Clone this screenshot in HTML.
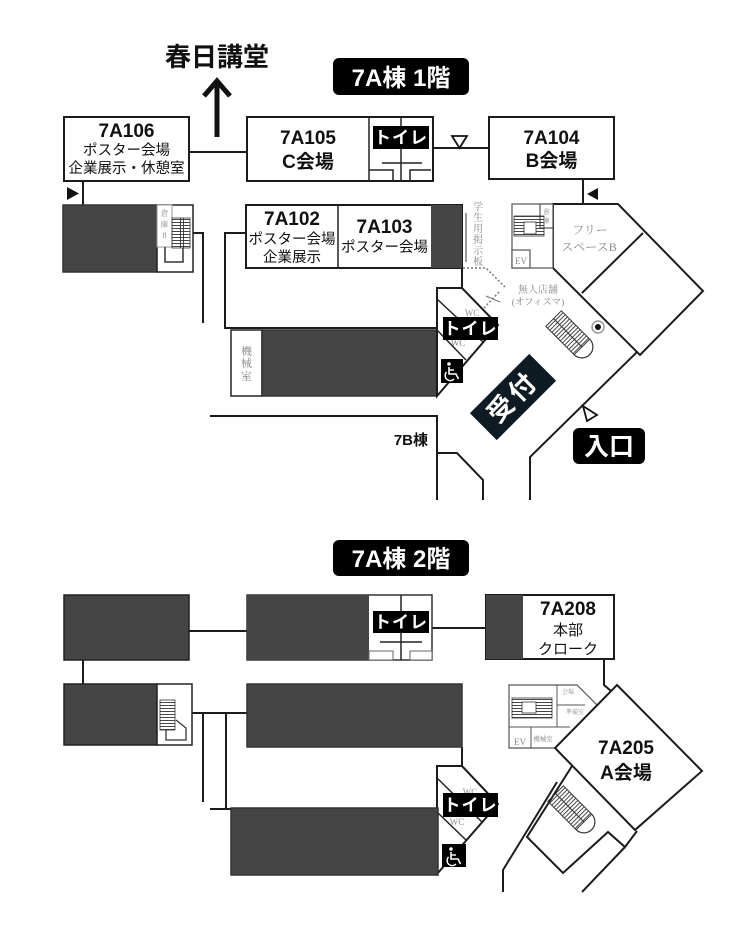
<!DOCTYPE html>
<html><head><meta charset="utf-8"><style>
html,body{margin:0;padding:0;background:#fff;}
svg{display:block;}
.b{font-family:"Liberation Sans","Noto Sans CJK JP",sans-serif;font-weight:bold;fill:#111;}
.j{font-family:"Liberation Sans","Noto Sans CJK JP",sans-serif;fill:#111;}
.g{font-family:"Liberation Serif","Noto Serif CJK SC",serif;fill:#8a8a8a;}
.w{fill:#fff;}
</style></head><body>
<svg width="756" height="945" viewBox="0 0 756 945" xmlns="http://www.w3.org/2000/svg">
<defs>
<pattern id="hv" width="3" height="3" patternUnits="userSpaceOnUse"><line x1="0.5" y1="0" x2="0.5" y2="3" stroke="#333" stroke-width="0.9"/></pattern>
<pattern id="hh" width="3" height="3" patternUnits="userSpaceOnUse"><line x1="0" y1="0.5" x2="3" y2="0.5" stroke="#333" stroke-width="0.9"/></pattern>
</defs>
<rect width="756" height="945" fill="#fff"/>

<!-- ================= 1F ================= -->
<text x="217" y="66" text-anchor="middle" class="b" font-size="26">春日講堂</text>
<line x1="217" y1="137" x2="217" y2="84" stroke="#111" stroke-width="5"/>
<polyline points="204,96 217,81 230,96" fill="none" stroke="#111" stroke-width="5"/>

<rect x="333" y="58" width="136" height="37" rx="6" fill="#000"/>
<text x="401" y="86" text-anchor="middle" class="b w" font-size="24">7A棟 1階</text>

<g stroke="#1c1c1c" stroke-width="2" fill="none">
  <line x1="189" y1="152" x2="247" y2="152"/>
  <line x1="433" y1="148" x2="489" y2="148"/>
  <line x1="83" y1="181" x2="83" y2="205"/>
  <line x1="583" y1="179" x2="583" y2="204"/>
  <polyline points="193,233 203,233 203,323"/>
  <polyline points="247,233 225,233 225,328 437,328"/>
  <polyline points="210,416 437,416 437,500"/>
  <polyline points="438,453 457,453 483,480 483,500"/>
  <polyline points="462,268 462,288"/>
  <polygon points="553,204 618,204 703,291 640,355 553,268"/>
  <line x1="643" y1="233" x2="582" y2="293"/>
  <polyline points="637,352 530,457 530,500"/>
</g>

<!-- 7A106 -->
<rect x="64" y="117" width="125" height="64" fill="#fff" stroke="#1c1c1c" stroke-width="2"/>
<text x="126.5" y="137" text-anchor="middle" class="b" font-size="19">7A106</text>
<text x="126.5" y="155" text-anchor="middle" class="j" font-size="14.5">ポスター会場</text>
<text x="126.5" y="173" text-anchor="middle" class="j" font-size="14.5">企業展示・休憩室</text>
<polygon points="67,187 79,193.5 67,200" fill="#111"/>

<!-- left dark block + stairs -->
<rect x="63" y="205" width="94" height="67" fill="#454545" stroke="#333" stroke-width="1.5"/>
<rect x="157" y="205" width="36" height="67" fill="#fff" stroke="#222" stroke-width="1.5"/>
<rect x="157" y="205" width="15" height="42" fill="#fff" stroke="#999" stroke-width="1"/>
<text x="164.5" y="216" text-anchor="middle" class="g" font-size="8">倉</text>
<text x="164.5" y="227" text-anchor="middle" class="g" font-size="8">庫</text>
<text x="164.5" y="238" text-anchor="middle" class="g" font-size="8">8</text>
<rect x="172" y="218" width="18" height="30" fill="url(#hh)" stroke="#333" stroke-width="0.8"/>
<rect x="178" y="218" width="6" height="30" fill="url(#hv)"/>
<polyline points="165,247 165,262 183,262 183,248" fill="none" stroke="#333" stroke-width="1.5"/>

<!-- 7A105 -->
<rect x="247" y="117" width="186" height="64" fill="#fff" stroke="#1c1c1c" stroke-width="2"/>
<g stroke="#222" stroke-width="1.5" fill="none">
  <line x1="369" y1="117" x2="369" y2="181"/>
  <line x1="401" y1="117" x2="401" y2="181"/>
  <line x1="382" y1="163" x2="422" y2="163"/>
  <polyline points="369,170 393,170 393,181"/>
  <polyline points="410,181 410,170 431,170"/>
</g>
<text x="308" y="144" text-anchor="middle" class="b" font-size="19">7A105</text>
<text x="308" y="168" text-anchor="middle" class="b" font-size="19">C会場</text>
<rect x="373" y="126" width="56" height="23" fill="#000"/>
<text x="401" y="143.5" text-anchor="middle" class="b w" font-size="17" letter-spacing="1">トイレ</text>
<polygon points="452,136 467,136 459.5,148" fill="#fff" stroke="#111" stroke-width="1.8"/>

<!-- 7A104 -->
<rect x="489" y="117" width="125" height="62" fill="#fff" stroke="#1c1c1c" stroke-width="2"/>
<text x="551.5" y="144" text-anchor="middle" class="b" font-size="19">7A104</text>
<text x="551.5" y="167" text-anchor="middle" class="b" font-size="19">B会場</text>
<polygon points="587,194 598,188 598,200" fill="#111"/>

<!-- EV block 1F -->
<g stroke="#555" stroke-width="1.2" fill="#fff">
  <rect x="512" y="204" width="41" height="64"/>
  <rect x="512" y="250" width="18" height="18"/>
  <rect x="540" y="204" width="13" height="24"/>
</g>
<rect x="514" y="216" width="30" height="20" fill="url(#hh)" stroke="#333" stroke-width="0.8"/>
<rect x="524" y="222" width="12" height="12" fill="#fff" stroke="#333" stroke-width="0.8"/>
<text x="521" y="264" text-anchor="middle" class="g" font-size="9">EV</text>
<text x="546.5" y="214" text-anchor="middle" class="g" font-size="7">倉</text>
<text x="546.5" y="223" text-anchor="middle" class="g" font-size="7">庫</text>

<text x="590" y="234" text-anchor="middle" class="g" font-size="12">フリー</text>
<text x="589" y="251" text-anchor="middle" class="g" font-size="12">スペースB</text>

<!-- 7A102 / 7A103 -->
<rect x="246" y="205" width="216" height="63" fill="#fff" stroke="#1c1c1c" stroke-width="2"/>
<rect x="431" y="205" width="31" height="63" fill="#454545"/>
<line x1="338" y1="205" x2="338" y2="268" stroke="#222" stroke-width="1.5"/>
<line x1="466" y1="213" x2="466" y2="262" stroke="#999" stroke-width="2"/>
<text x="292" y="225" text-anchor="middle" class="b" font-size="19">7A102</text>
<text x="292" y="244" text-anchor="middle" class="j" font-size="14.5">ポスター会場</text>
<text x="292" y="262" text-anchor="middle" class="j" font-size="14.5">企業展示</text>
<text x="384.5" y="233" text-anchor="middle" class="b" font-size="19">7A103</text>
<text x="384.5" y="252" text-anchor="middle" class="j" font-size="14.5">ポスター会場</text>

<g class="g" font-size="10" text-anchor="middle">
  <text x="478" y="210">学</text><text x="478" y="221">生</text><text x="478" y="232">用</text>
  <text x="478" y="243">掲</text><text x="478" y="254">示</text><text x="478" y="265">板</text>
</g>
<polyline points="463,268 486,268 505,287" fill="none" stroke="#777" stroke-width="1.5" stroke-dasharray="2,2"/>
<polyline points="499,292 484,308" fill="none" stroke="#777" stroke-width="1.5" stroke-dasharray="2,2"/>
<line x1="486" y1="296" x2="500" y2="302" stroke="#777" stroke-width="1.2"/>
<text x="538" y="293" text-anchor="middle" class="g" font-size="10">無人店舗</text>
<text x="538" y="305" text-anchor="middle" class="g" font-size="9.5">(オフィスマ)</text>

<!-- machine room + dark -->
<rect x="231" y="330" width="31" height="66" fill="#fff" stroke="#222" stroke-width="1.5"/>
<rect x="262" y="330" width="175" height="66" fill="#454545" stroke="#333" stroke-width="1.5"/>
<g class="g" font-size="11" text-anchor="middle">
  <text x="246.5" y="355">機</text><text x="246.5" y="367">械</text><text x="246.5" y="380">室</text>
</g>

<!-- toilet 1F -->
<polygon points="437,288 462,288 498,325 437,396" fill="#fff" stroke="#1c1c1c" stroke-width="2"/>
<line x1="437" y1="299" x2="483" y2="342" stroke="#222" stroke-width="1.5"/>
<line x1="437" y1="330" x2="466" y2="360" stroke="#222" stroke-width="1.5"/>
<text x="472" y="316" text-anchor="middle" class="g" font-size="9">WC</text>
<text x="458" y="346" text-anchor="middle" class="g" font-size="9">WC</text>
<rect x="443" y="317" width="55" height="23" fill="#000"/>
<text x="470.5" y="334.5" text-anchor="middle" class="b w" font-size="17" letter-spacing="1">トイレ</text>
<g>
  <rect x="441" y="359" width="22" height="24" fill="#000"/>
  <circle cx="449" cy="364" r="1.8" fill="#fff"/>
  <polyline points="449,367 449,374 456,374 458.5,379" fill="none" stroke="#fff" stroke-width="1.6"/>
  <line x1="449" y1="370" x2="454" y2="370" stroke="#fff" stroke-width="1.4"/>
  <path d="M446.5,372 A4.5,4.5 0 1 0 454,379" fill="none" stroke="#fff" stroke-width="1.4"/>
</g>

<!-- stairs near reception -->
<g transform="translate(572,337) rotate(45)">
  <rect x="-26" y="-11" width="40" height="22" fill="url(#hv)" stroke="#333" stroke-width="1"/>
  <line x1="-26" y1="0" x2="14" y2="0" stroke="#333" stroke-width="1"/>
  <path d="M14,-11 A11,11 0 0 1 14,11" fill="none" stroke="#333" stroke-width="1.2"/>
</g>
<circle cx="598" cy="327" r="6" fill="none" stroke="#999" stroke-width="1.5"/>
<circle cx="598" cy="327" r="3" fill="#111"/>

<!-- reception -->
<g transform="translate(513,397) rotate(-45)">
  <rect x="-42" y="-19" width="84" height="38" fill="#0f1b22"/>
  <text x="0" y="9" text-anchor="middle" class="b w" font-size="26" letter-spacing="4">受付</text>
</g>

<!-- entrance -->
<polygon points="583,406 597,415 587,421" fill="#fff" stroke="#111" stroke-width="1.8"/>
<rect x="573" y="428" width="72" height="36" rx="6" fill="#000"/>
<text x="609" y="455" text-anchor="middle" class="b w" font-size="25">入口</text>

<text x="428" y="445" text-anchor="end" class="b" font-size="15">7B棟</text>

<!-- ================= 2F ================= -->
<rect x="333" y="540" width="136" height="36" rx="6" fill="#000"/>
<text x="401" y="567" text-anchor="middle" class="b w" font-size="24">7A棟 2階</text>

<g stroke="#1c1c1c" stroke-width="2" fill="none">
  <line x1="189" y1="631" x2="247" y2="631"/>
  <line x1="432" y1="628" x2="486" y2="628"/>
  <line x1="83" y1="660" x2="83" y2="684"/>
  <line x1="192" y1="713" x2="247" y2="713"/>
  <line x1="203" y1="713" x2="203" y2="802"/>
  <line x1="226" y1="713" x2="226" y2="809"/>
  <line x1="210" y1="809" x2="231" y2="809"/>
  <polyline points="462,747 462,766 437,766"/>
  <polyline points="604,659 604,685 611,691"/>
  <polyline points="557,782 503,870 503,892"/>
  <polyline points="572,766 527,837 563,873 608,832 625,847 637,831"/>
  <line x1="625" y1="847" x2="582" y2="892"/>
</g>

<rect x="64" y="595" width="125" height="65" fill="#454545" stroke="#222" stroke-width="1.5"/>

<rect x="247" y="595" width="185" height="65" fill="#fff" stroke="#333" stroke-width="1.5"/>
<rect x="247" y="595" width="122" height="65" fill="#454545"/>
<g stroke="#222" stroke-width="1.5" fill="none">
  <line x1="401" y1="595" x2="401" y2="660"/>
  <line x1="380" y1="642" x2="422" y2="642"/>
</g>
<rect x="369" y="651" width="24" height="9" fill="#fff" stroke="#666" stroke-width="1"/>
<rect x="410" y="651" width="22" height="9" fill="#fff" stroke="#666" stroke-width="1"/>
<rect x="373" y="611" width="56" height="22" fill="#000"/>
<text x="401" y="628" text-anchor="middle" class="b w" font-size="17" letter-spacing="1">トイレ</text>

<!-- 7A208 -->
<rect x="486" y="595" width="128" height="64" fill="#fff" stroke="#1c1c1c" stroke-width="2"/>
<rect x="486" y="595" width="37" height="64" fill="#454545"/>
<text x="568" y="615" text-anchor="middle" class="b" font-size="19">7A208</text>
<text x="568" y="635" text-anchor="middle" class="j" font-size="15">本部</text>
<text x="568" y="654" text-anchor="middle" class="j" font-size="15">クローク</text>

<!-- EV block 2F -->
<polygon points="509,685 577,685 597,705 556,748 509,748" fill="#fff" stroke="#555" stroke-width="1.2"/>
<g stroke="#555" stroke-width="1" fill="none">
  <line x1="557" y1="685" x2="557" y2="727"/>
  <line x1="557" y1="705" x2="585" y2="705"/>
  <line x1="509" y1="727" x2="570" y2="727"/>
  <line x1="531" y1="727" x2="531" y2="748"/>
</g>
<rect x="512" y="698" width="40" height="20" fill="url(#hh)" stroke="#333" stroke-width="0.8"/>
<rect x="522" y="702" width="14" height="11" fill="#fff" stroke="#333" stroke-width="0.8"/>
<text x="520" y="745" text-anchor="middle" class="g" font-size="9">EV</text>
<text x="543" y="741" text-anchor="middle" class="g" font-size="6.5">機械室</text>
<text x="568" y="694" text-anchor="middle" class="g" font-size="6">会場</text>
<text x="575" y="714" text-anchor="middle" class="g" font-size="6">準備室</text>

<!-- 7A205 -->
<polygon points="617,685 702,771 635,830 555,748" fill="#fff" stroke="#1c1c1c" stroke-width="2"/>
<text x="626" y="754" text-anchor="middle" class="b" font-size="19">7A205</text>
<text x="626" y="779" text-anchor="middle" class="b" font-size="19">A会場</text>

<g transform="translate(574,812) rotate(45)">
  <rect x="-26" y="-11" width="40" height="22" fill="url(#hv)" stroke="#333" stroke-width="1"/>
  <line x1="-26" y1="0" x2="14" y2="0" stroke="#333" stroke-width="1"/>
  <path d="M14,-11 A11,11 0 0 1 14,11" fill="none" stroke="#333" stroke-width="1.2"/>
</g>

<!-- lower-left 2F -->
<rect x="64" y="684" width="93" height="61" fill="#454545" stroke="#222" stroke-width="1.5"/>
<rect x="157" y="684" width="35" height="61" fill="#fff" stroke="#222" stroke-width="1.5"/>
<rect x="160" y="700" width="15" height="30" fill="url(#hh)" stroke="#333" stroke-width="0.8"/>
<polyline points="166,730 166,740 186,740 186,728 176,720" fill="none" stroke="#333" stroke-width="1.3"/>

<rect x="247" y="684" width="215" height="63" fill="#454545" stroke="#333" stroke-width="1.5"/>

<!-- toilet 2F -->
<polygon points="437,766 462,766 498,804 437,874" fill="#fff" stroke="#1c1c1c" stroke-width="2"/>
<line x1="437" y1="778" x2="482" y2="822" stroke="#222" stroke-width="1.5"/>
<line x1="437" y1="812" x2="466" y2="840" stroke="#222" stroke-width="1.5"/>
<text x="470" y="795" text-anchor="middle" class="g" font-size="9">WC</text>
<text x="457" y="825" text-anchor="middle" class="g" font-size="9">WC</text>
<rect x="443" y="793" width="55" height="24" fill="#000"/>
<text x="470.5" y="811" text-anchor="middle" class="b w" font-size="17" letter-spacing="1">トイレ</text>
<g>
  <rect x="442" y="844" width="24" height="23" fill="#000"/>
  <circle cx="451" cy="849" r="1.8" fill="#fff"/>
  <polyline points="451,852 451,859 458,859 460.5,864" fill="none" stroke="#fff" stroke-width="1.6"/>
  <line x1="451" y1="855" x2="456" y2="855" stroke="#fff" stroke-width="1.4"/>
  <path d="M448.5,857 A4.5,4.5 0 1 0 456,864" fill="none" stroke="#fff" stroke-width="1.4"/>
</g>

<rect x="231" y="808" width="207" height="67" fill="#454545" stroke="#333" stroke-width="1.5"/>

</svg>
</body></html>
